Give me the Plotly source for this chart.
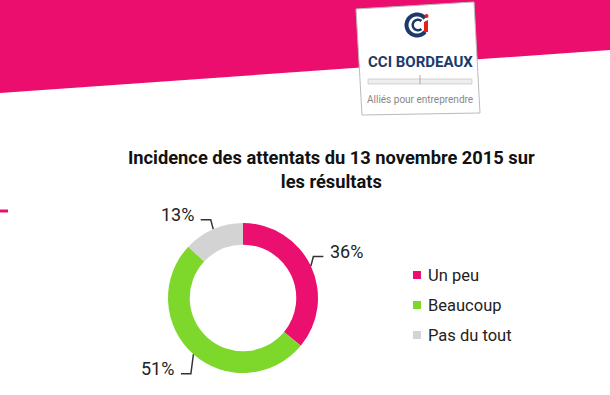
import numpy as np
import plotly.graph_objects as go

# ---- data ----
categories = ["Un peu", "Beaucoup", "Pas du tout"]
values = [36, 51, 13]
colors = ["#EB0F6F", "#7ED72B", "#D3D3D3"]
title_lines = ["Incidence des attentats du 13 novembre 2015 sur", "les résultats"]
logo_name = "CCI BORDEAUX"
logo_tagline = "Alliés pour entreprendre"

W, H = 610, 395
cx, cy, R = 243, 298, 75
HOLE = 0.71
PINK = "#EC0E6F"
NAVY = "#1B3A6B"
TEXT = "#222222"


def px(x):
    return x / W


def py(y):
    return 1 - y / H


def path(points, close=True):
    s = "M" + " L".join(f"{px(x):.5f},{py(y):.5f}" for x, y in points)
    return s + (" Z" if close else "")


fig = go.Figure()
fig.add_trace(go.Pie(
    labels=categories, values=values,
    marker=dict(colors=colors, line=dict(width=0)),
    hole=HOLE, sort=False, direction="clockwise", rotation=0,
    textinfo="none", showlegend=False,
    domain=dict(x=[px(cx - R), px(cx + R)], y=[py(cy + R), py(cy - R)]),
))

shapes = []
annotations = []

# pink band at top
shapes.append(dict(type="path", xref="paper", yref="paper", layer="below",
                   path=path([(0, 0), (W, 0), (W, 50), (0, 93)]),
                   fillcolor=PINK, line=dict(width=0)))
# small pink dash on left
shapes.append(dict(type="path", xref="paper", yref="paper", layer="below",
                   path=path([(0, 209.5), (8, 209.5), (8, 212.5), (0, 212.5)]),
                   fillcolor=PINK, line=dict(width=0)))

# logo card
shapes.append(dict(type="path", xref="paper", yref="paper",
                   path=path([(356, 9), (474, 2), (480, 113), (362, 115)]),
                   fillcolor="white", line=dict(color="#BBBBBB", width=1)))


def arc(xc, yc, r_out, r_in, a0, a1, n=40):
    t = np.radians(np.linspace(a0, a1, n))
    outer = [(xc + r_out * np.cos(a), yc - r_out * np.sin(a)) for a in t]
    inner = [(xc + r_in * np.cos(a), yc - r_in * np.sin(a)) for a in t[::-1]]
    return path(outer + inner)


lx, ly = 417, 25
shapes.append(dict(type="path", xref="paper", yref="paper",
                   path=arc(lx, ly, 12.5, 8.5, 40, 320), fillcolor=NAVY, line=dict(width=0)))
shapes.append(dict(type="path", xref="paper", yref="paper",
                   path=arc(lx + 1, ly, 6.5, 4.0, 50, 310), fillcolor=NAVY, line=dict(width=0)))
shapes.append(dict(type="path", xref="paper", yref="paper",
                   path=path([(424, 22), (428, 20), (428, 32), (424, 32)]),
                   fillcolor="#E2231A", line=dict(width=0)))
shapes.append(dict(type="circle", xref="paper", yref="paper",
                   x0=px(424.5), x1=px(428.5), y0=py(18), y1=py(14),
                   fillcolor="#E2231A", line=dict(width=0)))

annotations.append(dict(xref="paper", yref="paper", x=px(420), y=py(62),
                        text=f"<b>{logo_name}</b>", showarrow=False,
                        font=dict(family="Roboto", size=15, color=NAVY),
                        xanchor="center", yanchor="middle"))
# building sketch
shapes.append(dict(type="path", xref="paper", yref="paper",
                   path=path([(368, 79), (472, 79), (472, 84), (368, 84)]),
                   fillcolor="#EEEEEE", line=dict(color="#BBBBBB", width=0.6)))
shapes.append(dict(type="line", xref="paper", yref="paper",
                   x0=px(420), x1=px(420), y0=py(84), y1=py(75),
                   line=dict(color="#AAAAAA", width=1)))
annotations.append(dict(xref="paper", yref="paper", x=px(420), y=py(99),
                        text=logo_tagline, showarrow=False,
                        font=dict(family="Roboto", size=10, color="#888888"),
                        xanchor="center", yanchor="middle"))

# title
annotations.append(dict(xref="paper", yref="paper", x=px(331), y=py(169),
                        text="<b>" + "<br>".join(title_lines) + "</b>",
                        showarrow=False, align="center",
                        font=dict(family="Roboto", size=18.3, color="#111111"),
                        xanchor="center", yanchor="middle"))

# data labels with leader lines
total = sum(values)
cum = 0
for v, c in zip(values, colors):
    theta = 2 * np.pi * (cum + v / 2) / total
    cum += v
    s, co = np.sin(theta), np.cos(theta)
    x0, y0 = cx + R * s, cy - R * co
    sx = 1 if s >= 0 else -1
    sy = -1 if co >= 0 else 1
    label_y = y0 + sy * 14.5
    ey = label_y + 5
    ex = x0 + sx * 2.5
    hx = ex + sx * 10
    shapes.append(dict(type="path", xref="paper", yref="paper",
                       path=path([(x0, y0), (ex, ey), (hx, ey)], close=False),
                       line=dict(color="#333333", width=1.5)))
    annotations.append(dict(xref="paper", yref="paper", x=px(hx + sx * 5), y=py(label_y),
                            text=f"{round(100 * v / total)}%", showarrow=False,
                            font=dict(family="Roboto", size=18, color=TEXT),
                            xanchor="left" if sx > 0 else "right", yanchor="middle"))

# legend (manual)
for i, (cat, c) in enumerate(zip(categories, colors)):
    yy = 275 + 30 * i
    shapes.append(dict(type="rect", xref="paper", yref="paper",
                       x0=px(413), x1=px(421), y0=py(yy + 4), y1=py(yy - 4),
                       fillcolor=c, line=dict(width=0)))
    annotations.append(dict(xref="paper", yref="paper", x=px(426), y=py(yy),
                            text=cat, showarrow=False,
                            font=dict(family="Roboto", size=16.5, color=TEXT),
                            xanchor="left", yanchor="middle"))

fig.update_layout(width=W, height=H, margin=dict(l=0, r=0, t=0, b=0),
                  paper_bgcolor="white", plot_bgcolor="white",
                  shapes=shapes, annotations=annotations, showlegend=False)
fig.write_html("out.html", config={"displayModeBar": False},
               post_script="document.body.style.margin='0';document.body.style.overflow='hidden';")
